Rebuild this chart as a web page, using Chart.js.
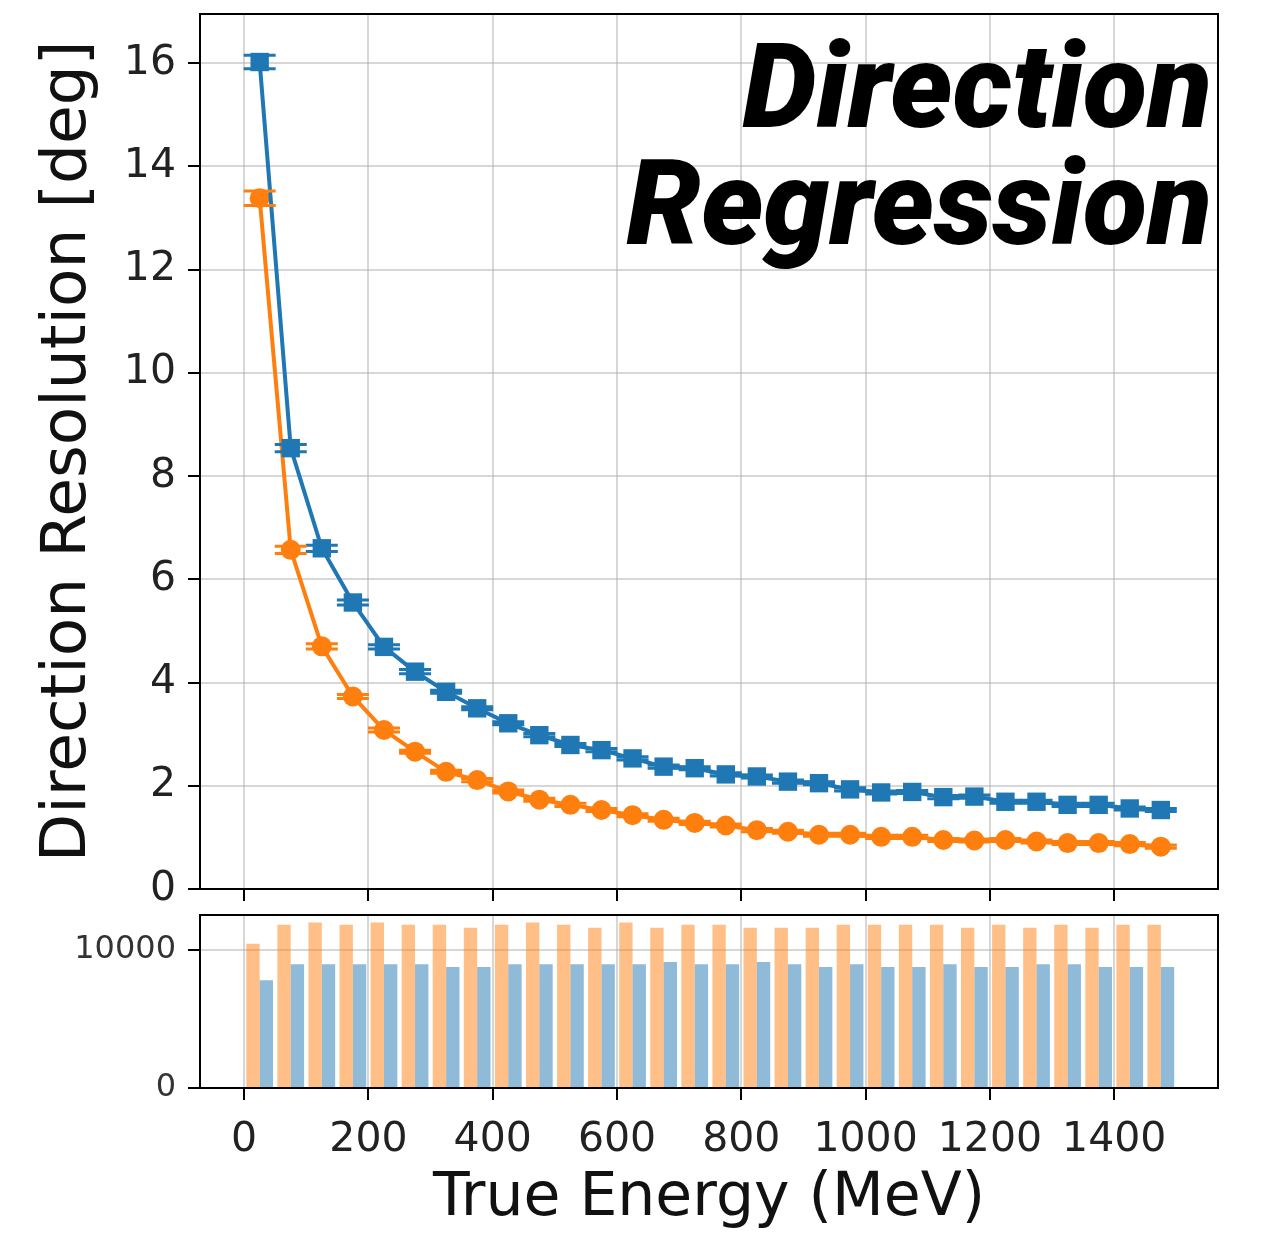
<!DOCTYPE html>
<html>
<head>
<meta charset="utf-8">
<script src="https://cdn.jsdelivr.net/npm/chart.js@4/dist/chart.umd.min.js"></script>
<style>
body{margin:0;background:#fff;width:1265px;height:1237px;position:relative;overflow:hidden;}
#top{position:absolute;left:0;top:0;}
#bottom{position:absolute;left:0;top:905px;}
.label{position:absolute;right:53px;top:29px;text-align:right;font-family:Roboto, Lato, sans-serif;font-style:italic;font-weight:900;font-size:118px;line-height:117px;color:#000;white-space:nowrap;}
</style>
</head>
<body>
<canvas id="top" width="1265" height="905"></canvas>
<canvas id="bottom" width="1265" height="332"></canvas>
<div class="label">Direction<br>Regression</div>
<script>
// bin centres (MeV)
const energy = [25, 75, 125, 175, 225, 275, 325, 375, 425, 475, 525, 575, 625, 675, 725,
  775, 825, 875, 925, 975, 1025, 1075, 1125, 1175, 1225, 1275, 1325, 1375, 1425, 1475];

const blueResolution = [16.02, 8.54, 6.60, 5.55, 4.69, 4.21, 3.82, 3.50, 3.21, 2.98, 2.79, 2.69, 2.53, 2.37, 2.34,
  2.22, 2.18, 2.08, 2.05, 1.93, 1.87, 1.88, 1.78, 1.79, 1.69, 1.69, 1.63, 1.63, 1.56, 1.53];
const blueError = [0.13, 0.07, 0.06, 0.05, 0.04, 0.04, 0.03, 0.03, 0.03, 0.03, 0.03, 0.03, 0.03, 0.03, 0.03,
  0.03, 0.03, 0.03, 0.03, 0.03, 0.03, 0.03, 0.03, 0.03, 0.03, 0.03, 0.03, 0.03, 0.03, 0.03];

const orangeResolution = [13.38, 6.57, 4.70, 3.73, 3.08, 2.66, 2.27, 2.11, 1.89, 1.73, 1.63, 1.53, 1.43, 1.34, 1.28,
  1.23, 1.14, 1.11, 1.05, 1.05, 1.01, 1.01, 0.95, 0.94, 0.95, 0.92, 0.89, 0.89, 0.87, 0.82];
const orangeError = [0.14, 0.07, 0.05, 0.04, 0.04, 0.03, 0.03, 0.03, 0.03, 0.03, 0.03, 0.03, 0.03, 0.03, 0.03,
  0.03, 0.03, 0.03, 0.03, 0.03, 0.03, 0.03, 0.03, 0.03, 0.03, 0.03, 0.03, 0.03, 0.03, 0.03];

// event counts per bin
const orangeCounts = [10430, 11800, 11960, 11800, 11960, 11800, 11800, 11580, 11800, 11960, 11800, 11580, 11960, 11580, 11800,
  11800, 11580, 11580, 11580, 11800, 11800, 11800, 11800, 11580, 11800, 11580, 11800, 11580, 11800, 11800];
const blueCounts = [7790, 8940, 8940, 8940, 8940, 8940, 8750, 8750, 8940, 8940, 8940, 8940, 8940, 9110, 8940,
  8940, 9110, 8940, 8750, 8940, 8750, 8750, 8940, 8750, 8750, 8940, 8940, 8750, 8750, 8750];

const xTicks = [0, 200, 400, 600, 800, 1000, 1200, 1400];
const yTicksTop = [0, 2, 4, 6, 8, 10, 12, 14, 16];
const yTicksBottom = [0, 10000];

const blue = '#1f77b4';
const orange = '#ff7f0e';
const gridColor = 'rgba(176,176,176,0.5)';

const errorBars = {
  id: 'errorBars',
  afterDatasetsDraw(chart) {
    const ctx = chart.ctx;
    const xs = chart.scales.x;
    const ys = chart.scales.y;
    chart.data.datasets.forEach(ds => {
      if (!ds.errors) return;
      ctx.save();
      ctx.strokeStyle = ds.borderColor;
      ctx.lineWidth = 3;
      ds.data.forEach((p, i) => {
        const px = xs.getPixelForValue(p.x);
        const top = ys.getPixelForValue(p.y + ds.errors[i]);
        const bot = ys.getPixelForValue(p.y - ds.errors[i]);
        ctx.beginPath();
        ctx.moveTo(px, top); ctx.lineTo(px, bot);
        ctx.moveTo(px - 16, top); ctx.lineTo(px + 16, top);
        ctx.moveTo(px - 16, bot); ctx.lineTo(px + 16, bot);
        ctx.stroke();
      });
      ctx.restore();
    });
  }
};

const frame = {
  id: 'frame',
  afterDraw(chart) {
    const a = chart.chartArea;
    const ctx = chart.ctx;
    ctx.save();
    ctx.strokeStyle = '#000';
    ctx.lineWidth = 2;
    ctx.strokeRect(a.left, a.top, a.right - a.left, a.bottom - a.top);
    ctx.restore();
  }
};

function gridOptions() {
  return { color: gridColor, lineWidth: 2, tickColor: '#000', tickWidth: 2, tickLength: 12, offset: false };
}

function points(values) {
  return energy.map((e, i) => ({ x: e, y: values[i] }));
}

// fixed axis boxes so both panels line up
function fitX(h) {
  return s => { s.height = h; s.paddingLeft = 0; s.paddingRight = 0; };
}
function fitY(s) {
  s.width = 200; s.paddingTop = 0; s.paddingBottom = 0;
}

new Chart(document.getElementById('top'), {
  type: 'line',
  data: {
    datasets: [
      {
        data: points(blueResolution), errors: blueError,
        borderColor: blue, backgroundColor: blue, borderWidth: 4,
        pointStyle: 'rect', pointRadius: 13, pointBorderWidth: 0, tension: 0
      },
      {
        data: points(orangeResolution), errors: orangeError,
        borderColor: orange, backgroundColor: orange, borderWidth: 4,
        pointStyle: 'circle', pointRadius: 10, pointBorderWidth: 0, tension: 0
      }
    ]
  },
  options: {
    responsive: false,
    animation: false,
    devicePixelRatio: 1,
    layout: { padding: { top: 14, right: 47, bottom: 4, left: 0 } },
    plugins: { legend: { display: false }, tooltip: { enabled: false } },
    scales: {
      x: {
        type: 'linear', min: -71, max: 1567,
        afterBuildTicks: s => { s.ticks = xTicks.map(v => ({ value: v })); },
        afterFit: fitX(12),
        grid: gridOptions(),
        border: { display: false },
        ticks: { display: false }
      },
      y: {
        min: 0, max: 16.95,
        afterBuildTicks: s => { s.ticks = yTicksTop.map(v => ({ value: v })); },
        afterFit: fitY,
        grid: gridOptions(),
        border: { display: false },
        ticks: { color: '#222', padding: 12, font: { family: 'DejaVu Sans', size: 41 }, callback: v => String(v) },
        title: {
          display: true, text: 'Direction Resolution [deg]', color: '#111',
          font: { family: 'DejaVu Sans', size: 63 }, padding: { top: 31, bottom: 0 }
        }
      }
    }
  },
  plugins: [errorBars, frame]
});

new Chart(document.getElementById('bottom'), {
  type: 'bar',
  data: {
    datasets: [
      { data: points(orangeCounts), backgroundColor: 'rgba(255,127,14,0.5)', borderWidth: 0, categoryPercentage: 0.86, barPercentage: 1 },
      { data: points(blueCounts), backgroundColor: 'rgba(31,119,180,0.5)', borderWidth: 0, categoryPercentage: 0.86, barPercentage: 1 }
    ]
  },
  options: {
    responsive: false,
    animation: false,
    devicePixelRatio: 1,
    layout: { padding: { top: 10, right: 47, bottom: 0, left: 0 } },
    plugins: { legend: { display: false }, tooltip: { enabled: false } },
    scales: {
      x: {
        type: 'linear', min: -71, max: 1567, offset: false,
        afterBuildTicks: s => { s.ticks = xTicks.map(v => ({ value: v })); },
        afterFit: fitX(149),
        grid: gridOptions(),
        border: { display: false },
        ticks: { color: '#222', padding: 16, maxRotation: 0, autoSkip: false, font: { family: 'DejaVu Sans', size: 41 }, callback: v => String(v) },
        title: {
          display: true, text: 'True Energy (MeV)', color: '#111',
          font: { family: 'DejaVu Sans', size: 60 }, padding: { top: 0, bottom: 2 }
        }
      },
      y: {
        min: 0, max: 12500,
        afterBuildTicks: s => { s.ticks = yTicksBottom.map(v => ({ value: v })); },
        afterFit: fitY,
        grid: gridOptions(),
        border: { display: false },
        ticks: { color: '#333', padding: 12, font: { family: 'DejaVu Sans', size: 32 }, callback: v => String(v) }
      }
    }
  },
  plugins: [frame]
});
</script>
</body>
</html>
